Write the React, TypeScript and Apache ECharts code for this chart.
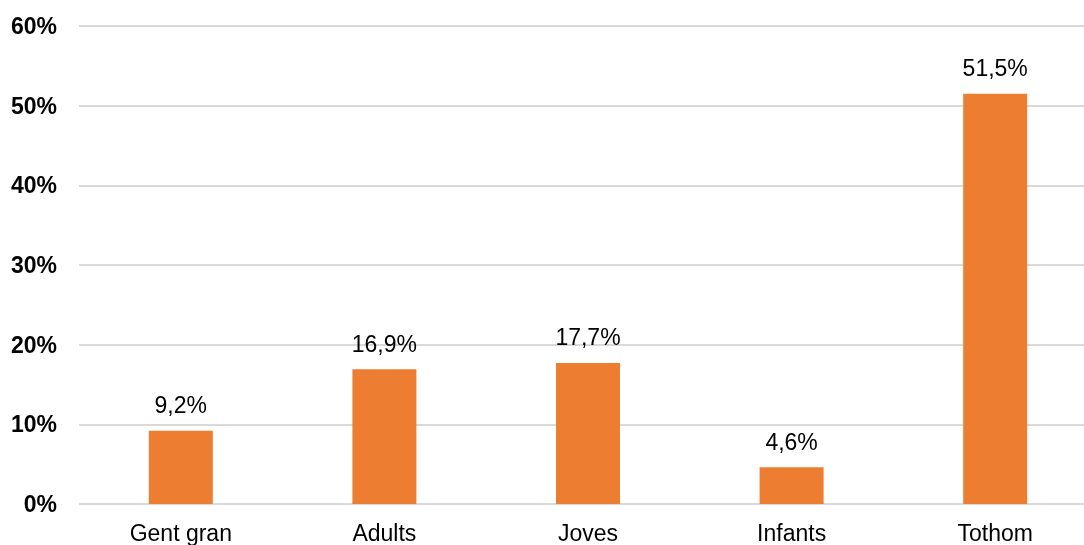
import React, { useEffect, useRef } from "react";
import * as echarts from "echarts";

const categories = ["Gent gran", "Adults", "Joves", "Infants", "Tothom"];
const values = [9.2, 16.9, 17.7, 4.6, 51.5];
const yTicks = [0, 10, 20, 30, 40, 50, 60];

export default function App() {
  const ref = useRef<HTMLDivElement>(null);
  useEffect(() => {
    if (!ref.current) return;
    const chart = echarts.init(ref.current, null, { renderer: "svg" });
    chart.setOption({
      animation: false,
      grid: { left: 79, right: 3, top: 26, bottom: 41 },
      xAxis: {
        type: "category",
        data: categories,
        axisLine: { show: false },
        axisTick: { show: false },
        axisLabel: {
          color: "#000",
          fontSize: 23,
          fontFamily: "'Liberation Sans', Arial, sans-serif",
          margin: 17,
        },
      },
      yAxis: {
        type: "value",
        min: yTicks[0],
        max: yTicks[yTicks.length - 1],
        interval: 10,
        axisLine: { show: false },
        axisTick: { show: false },
        splitLine: { lineStyle: { color: "#D9D9D9", width: 2 } },
        axisLabel: {
          formatter: "{value}%",
          color: "#000",
          fontWeight: "bold",
          fontSize: 23,
          fontFamily: "'Liberation Sans', Arial, sans-serif",
          margin: 22,
        },
      },
      series: [
        {
          type: "bar",
          data: values,
          barWidth: 64,
          itemStyle: { color: "#ED7D31" },
          label: {
            show: true,
            position: "top",
            distance: 14,
            color: "#000",
            fontSize: 23,
            fontFamily: "'Liberation Sans', Arial, sans-serif",
            formatter: (p: any) => p.value.toFixed(1).replace(".", ",") + "%",
          },
        },
      ],
    });
    return () => chart.dispose();
  }, []);
  return (
    <div
      ref={ref}
      style={{ position: "fixed", left: 0, top: 0, width: 1100, height: 545 }}
    />
  );
}
